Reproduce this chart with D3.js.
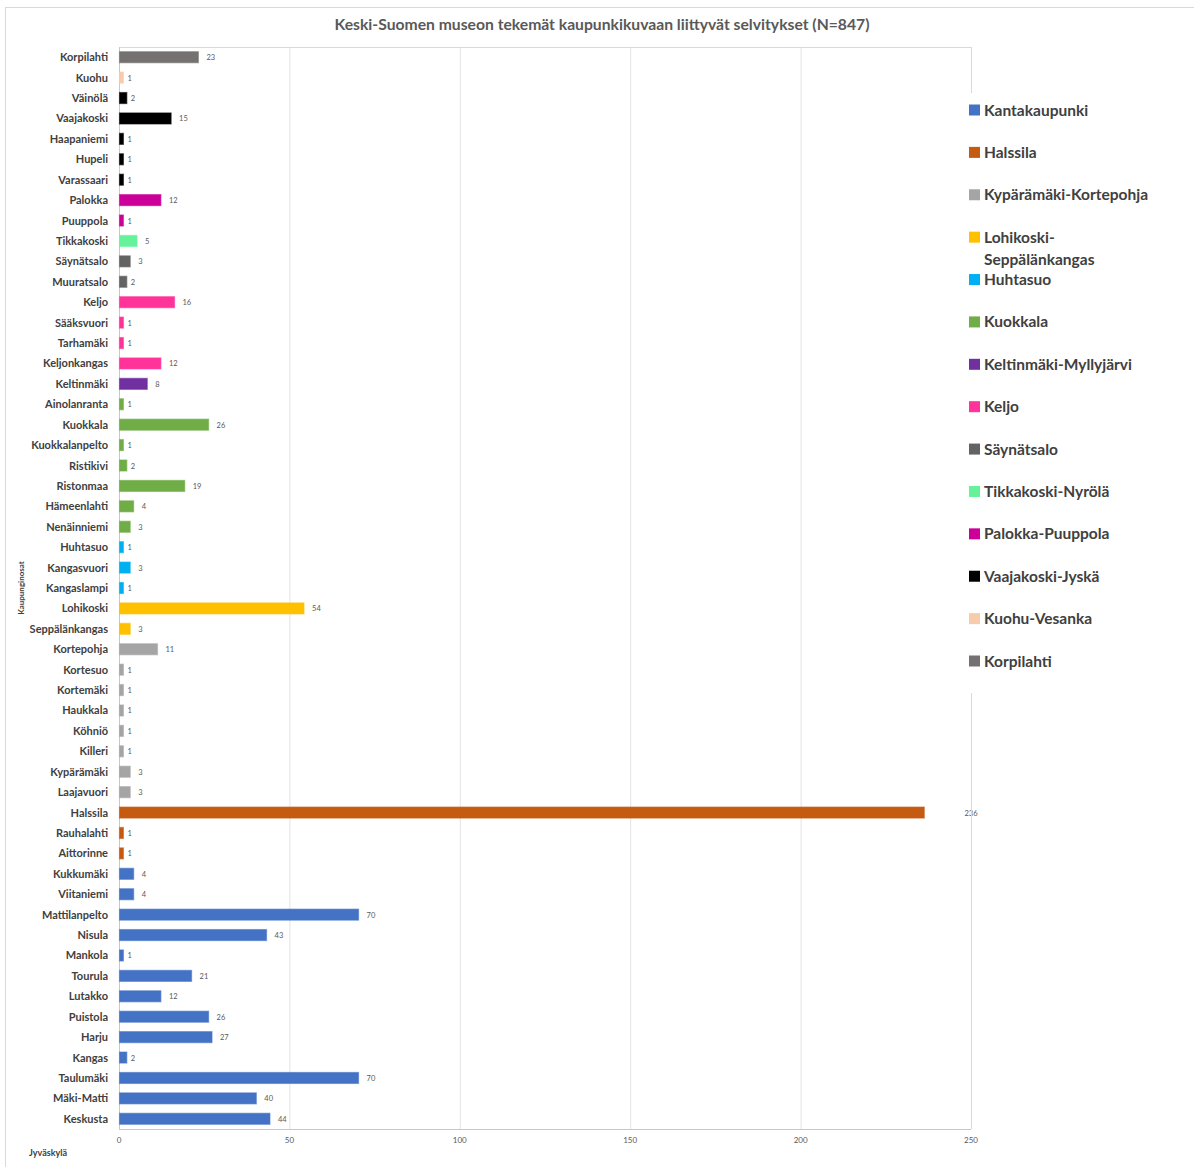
<!DOCTYPE html>
<html>
<head>
<meta charset="utf-8">
<script src="https://cdn.jsdelivr.net/npm/d3@7"></script>
<style>
  body { margin: 0; background: #fff; }
  svg { font-family: Lato, "Open Sans", sans-serif; }
</style>
</head>
<body>
<div id="chart"></div>
<script>
// categories, top to bottom
const places = ["Korpilahti", "Kuohu", "Väinölä", "Vaajakoski", "Haapaniemi", "Hupeli", "Varassaari",
  "Palokka", "Puuppola", "Tikkakoski", "Säynätsalo", "Muuratsalo", "Keljo", "Sääksvuori", "Tarhamäki",
  "Keljonkangas", "Keltinmäki", "Ainolanranta", "Kuokkala", "Kuokkalanpelto", "Ristikivi", "Ristonmaa",
  "Hämeenlahti", "Nenäinniemi", "Huhtasuo", "Kangasvuori", "Kangaslampi", "Lohikoski", "Seppälänkangas",
  "Kortepohja", "Kortesuo", "Kortemäki", "Haukkala", "Köhniö", "Killeri", "Kypärämäki", "Laajavuori",
  "Halssila", "Rauhalahti", "Aittorinne", "Kukkumäki", "Viitaniemi", "Mattilanpelto", "Nisula", "Mankola",
  "Tourula", "Lutakko", "Puistola", "Harju", "Kangas", "Taulumäki", "Mäki-Matti", "Keskusta"];
const counts = [23, 1, 2, 15, 1, 1, 1,
  12, 1, 5, 3, 2, 16, 1, 1,
  12, 8, 1, 26, 1, 2, 19,
  4, 3, 1, 3, 1, 54, 3,
  11, 1, 1, 1, 1, 1, 3, 3,
  236, 1, 1, 4, 4, 70, 43, 1,
  21, 12, 26, 27, 2, 70, 40, 44];
const areaOf = ["Korpilahti", "Kuohu-Vesanka", "Vaajakoski-Jyskä", "Vaajakoski-Jyskä", "Vaajakoski-Jyskä", "Vaajakoski-Jyskä", "Vaajakoski-Jyskä",
  "Palokka-Puuppola", "Palokka-Puuppola", "Tikkakoski-Nyrölä", "Säynätsalo", "Säynätsalo", "Keljo", "Keljo", "Keljo",
  "Keljo", "Keltinmäki-Myllyjärvi", "Kuokkala", "Kuokkala", "Kuokkala", "Kuokkala", "Kuokkala",
  "Kuokkala", "Kuokkala", "Huhtasuo", "Huhtasuo", "Huhtasuo", "Lohikoski-Seppälänkangas", "Lohikoski-Seppälänkangas",
  "Kypärämäki-Kortepohja", "Kypärämäki-Kortepohja", "Kypärämäki-Kortepohja", "Kypärämäki-Kortepohja", "Kypärämäki-Kortepohja", "Kypärämäki-Kortepohja", "Kypärämäki-Kortepohja", "Kypärämäki-Kortepohja",
  "Halssila", "Halssila", "Halssila", "Kantakaupunki", "Kantakaupunki", "Kantakaupunki", "Kantakaupunki", "Kantakaupunki",
  "Kantakaupunki", "Kantakaupunki", "Kantakaupunki", "Kantakaupunki", "Kantakaupunki", "Kantakaupunki", "Kantakaupunki", "Kantakaupunki"];

// legend order and colours
const areas = ["Kantakaupunki", "Halssila", "Kypärämäki-Kortepohja", "Lohikoski-Seppälänkangas", "Huhtasuo",
  "Kuokkala", "Keltinmäki-Myllyjärvi", "Keljo", "Säynätsalo", "Tikkakoski-Nyrölä", "Palokka-Puuppola",
  "Vaajakoski-Jyskä", "Kuohu-Vesanka", "Korpilahti"];
const areaColors = ["#4472c4", "#c55a11", "#a5a5a5", "#ffc000", "#00b0f0",
  "#70ad47", "#7030a0", "#ff3399", "#636363", "#66f29a", "#cc0099",
  "#000000", "#f8cbad", "#757171"];
const xTicks = [0, 50, 100, 150, 200, 250];

const W = 1194, H = 1167;
const m = { top: 47, left: 119, right: 971, bottom: 1129 };

const svg = d3.select("#chart").append("svg")
    .attr("width", W)
    .attr("height", H);

// outer chart border
svg.append("rect")
    .attr("x", 5.5).attr("y", 7.5)
    .attr("width", W + 10).attr("height", H + 10)
    .attr("fill", "none")
    .attr("stroke", "#d9d9d9");

const x = d3.scaleLinear().domain([0, 250]).range([m.left, m.right]);
const y = d3.scaleBand().domain(places).range([m.top, m.bottom]).paddingInner(0.46).paddingOuter(0.23);
const color = d3.scaleOrdinal().domain(areas).range(areaColors);

svg.append("text")
    .attr("x", 602).attr("y", 30)
    .attr("text-anchor", "middle")
    .attr("font-size", 15.7)
    .attr("font-weight", "bold")
    .attr("fill", "#595959")
    .text("Keski-Suomen museon tekemät kaupunkikuvaan liittyvät selvitykset (N=847)");

// grid
svg.append("g")
  .selectAll("line")
  .data(xTicks)
  .join("line")
    .attr("x1", d => x(d) + 0.5).attr("x2", d => x(d) + 0.5)
    .attr("y1", m.top).attr("y2", m.bottom)
    .attr("stroke", "#e3e3e3");

svg.append("line")
    .attr("x1", m.left).attr("x2", m.right)
    .attr("y1", m.top + 0.5).attr("y2", m.top + 0.5)
    .attr("stroke", "#d9d9d9");
svg.append("line")
    .attr("x1", m.left).attr("x2", m.right)
    .attr("y1", m.bottom + 0.5).attr("y2", m.bottom + 0.5)
    .attr("stroke", "#c8c8c8");
svg.append("line")
    .attr("x1", m.left + 0.5).attr("x2", m.left + 0.5)
    .attr("y1", m.top).attr("y2", m.bottom)
    .attr("stroke", "#c8c8c8");

// x tick labels
svg.append("g")
  .selectAll("text")
  .data(xTicks)
  .join("text")
    .attr("x", d => x(d))
    .attr("y", 1143)
    .attr("text-anchor", "middle")
    .attr("font-size", 8)
    .attr("fill", "#595959")
    .text(d => d);

const rows = places.map((p, i) => ({ place: p, value: counts[i], area: areaOf[i] }));

// bars, with a soft outline that widens them a little like the original
svg.append("g")
  .selectAll("rect")
  .data(rows)
  .join("rect")
    .attr("x", x(0) + 0.5)
    .attr("y", d => y(d.place))
    .attr("width", d => x(d.value) - x(0) + 0.5)
    .attr("height", y.bandwidth())
    .attr("fill", d => color(d.area))
    .attr("stroke", d => color(d.area))
    .attr("stroke-opacity", 0.55)
    .attr("stroke-width", 1.2);

// value labels
svg.append("g")
  .selectAll("text")
  .data(rows)
  .join("text")
    .attr("x", d => d.value > 200 ? x(250) : x(d.value) + (d.value < 3 ? 5 : 9))
    .attr("y", d => y(d.place) + y.bandwidth() / 2 + 3)
    .attr("text-anchor", d => d.value > 200 ? "middle" : "start")
    .attr("font-size", 7.5)
    .attr("fill", "#595959")
    .text(d => d.value);

// category labels
svg.append("g")
  .selectAll("text")
  .data(places)
  .join("text")
    .attr("x", 108)
    .attr("y", d => y(d) + y.bandwidth() / 2 + 4)
    .attr("text-anchor", "end")
    .attr("font-size", 11)
    .attr("font-weight", "bold")
    .attr("fill", "#404040")
    .text(d => d);

svg.append("text")
    .attr("transform", "translate(24,588) rotate(-90)")
    .attr("text-anchor", "middle")
    .attr("font-size", 8)
    .attr("font-weight", "bold")
    .attr("fill", "#404040")
    .text("Kaupunginosat");

svg.append("text")
    .attr("x", 29).attr("y", 1156)
    .attr("font-size", 9)
    .attr("font-weight", "bold")
    .attr("fill", "#404040")
    .text("Jyväskylä");

// right border of plot, interrupted by legend
svg.append("line")
    .attr("x1", m.right + 0.5).attr("x2", m.right + 0.5)
    .attr("y1", m.top).attr("y2", m.bottom)
    .attr("stroke", "#d9d9d9");

const legend = svg.append("g");
legend.append("rect")
    .attr("x", 962).attr("y", 93)
    .attr("width", 232).attr("height", 600)
    .attr("fill", "#fff");

const ly = d3.scalePoint().domain(areas).range([110, 661]);
const item = legend.selectAll("g")
  .data(areas)
  .join("g")
    .attr("transform", d => "translate(969," + ly(d) + ")");

item.append("rect")
    .attr("x", 0).attr("y", -5.5)
    .attr("width", 11).attr("height", 11)
    .attr("fill", d => color(d));

item.append("text")
    .attr("x", 15)
    .attr("y", 5.5)
    .attr("font-size", 15.5)
    .attr("font-weight", "bold")
    .attr("fill", "#404040")
    .each(function(d) {
      const t = d3.select(this);
      if (d === "Lohikoski-Seppälänkangas") {
        t.append("tspan").attr("x", 15).text("Lohikoski-");
        t.append("tspan").attr("x", 15).attr("dy", 22).text("Seppälänkangas");
      } else {
        t.text(d);
      }
    });
</script>
</body>
</html>
